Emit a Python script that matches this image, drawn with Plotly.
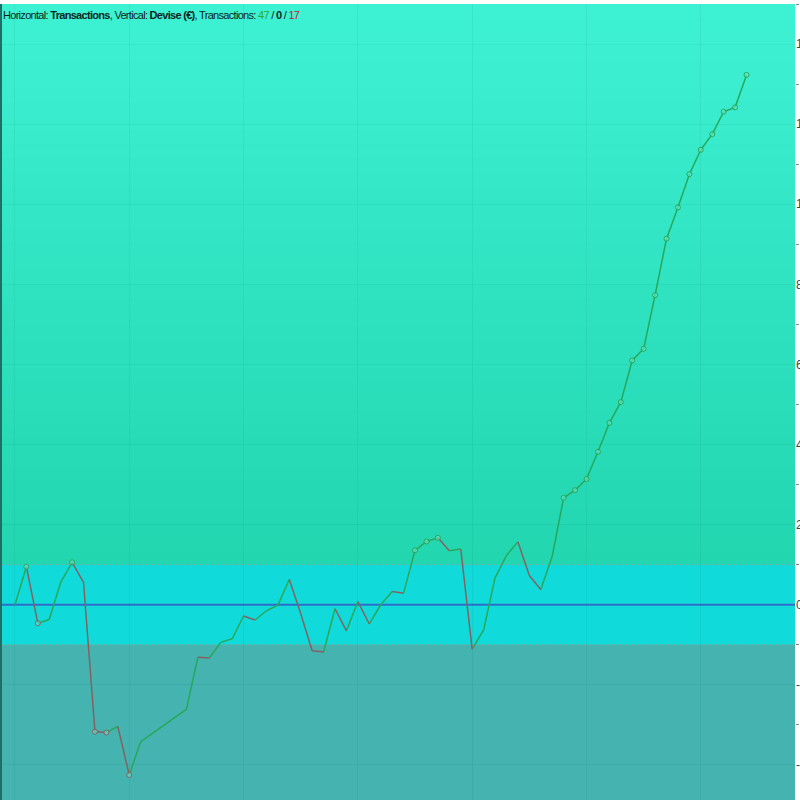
import plotly.graph_objects as go

# Data: running balance after each transaction
transactions = list(range(0, 65))
balance = [0.0, 0.95, -0.46, -0.37, 0.56, 1.06, 0.56, -3.17, -3.19, -3.04,
           -4.25, -3.42, -3.22, -3.02, -2.81, -2.61, -1.31, -1.33, -0.94, -0.85,
           -0.28, -0.38, -0.15, -0.01, 0.63, -0.22, -1.15, -1.18, -0.10, -0.65,
           0.08, -0.48, 0.0, 0.33, 0.29, 1.36, 1.58, 1.67, 1.35, 1.39,
           -1.11, -0.63, 0.67, 1.23, 1.57, 0.73, 0.38, 1.21, 2.67, 2.86,
           3.14, 3.82, 4.54, 5.06, 6.10, 6.39, 7.73, 9.14, 9.92, 10.75,
           11.36, 11.75, 12.31, 12.42, 13.23]
marked = [1, 2, 5, 7, 8, 10, 35, 36, 37, 48, 49, 50, 51, 52, 53, 54, 55, 56,
          57, 58, 59, 60, 61, 62, 63, 64]
band = [-1.0, 1.0]
y_ticks = [-4, -2, 0, 2, 4, 6, 8, 10, 12, 14]

n_up = sum(1 for a, b in zip(balance, balance[1:]) if b > a)
n_even = sum(1 for a, b in zip(balance, balance[1:]) if b == a)
n_down = sum(1 for a, b in zip(balance, balance[1:]) if b < a)

GREEN = "#27a85a"
RED = "#846262"

# split into rising / falling segments
up_x, up_y, dn_x, dn_y = [], [], [], []
for i in range(1, len(balance)):
    if balance[i] >= balance[i - 1]:
        up_x += [transactions[i - 1], transactions[i], None]
        up_y += [balance[i - 1], balance[i], None]
    else:
        dn_x += [transactions[i - 1], transactions[i], None]
        dn_y += [balance[i - 1], balance[i], None]

fig = go.Figure()
fig.add_trace(go.Scatter(x=up_x, y=up_y, mode="lines",
                         line=dict(color=GREEN, width=1.5), hoverinfo="skip"))
fig.add_trace(go.Scatter(x=dn_x, y=dn_y, mode="lines",
                         line=dict(color=RED, width=1.5), hoverinfo="skip"))
mk_col = [GREEN if balance[i] >= balance[i - 1] else RED for i in marked]
fig.add_trace(go.Scatter(x=[transactions[i] for i in marked],
                         y=[balance[i] for i in marked], mode="markers",
                         marker=dict(symbol="circle", size=5, color="rgba(120,240,220,0.5)",
                                     line=dict(color=mk_col, width=1))))

# background bands
y_lo, y_hi = -4.875, 15.0
shapes = []
steps = 40
c0 = (34, 214, 176)
c1 = (62, 242, 212)
for k in range(steps):
    a = band[1] + (y_hi - band[1]) * k / steps
    b = band[1] + (y_hi - band[1]) * (k + 1) / steps
    t = (k + 0.5) / steps
    col = tuple(int(c0[j] + (c1[j] - c0[j]) * t) for j in range(3))
    shapes.append(dict(type="rect", xref="paper", yref="y", x0=0, x1=1, y0=a, y1=b + 0.01,
                       fillcolor="rgb(%d,%d,%d)" % col, line=dict(width=0), layer="below"))
shapes.append(dict(type="rect", xref="paper", yref="y", x0=0, x1=1, y0=band[0], y1=band[1],
                   fillcolor="#10dbda", line=dict(width=0), layer="below"))
shapes.append(dict(type="rect", xref="paper", yref="y", x0=0, x1=1, y0=y_lo, y1=band[0],
                   fillcolor="#45b3b0", line=dict(width=0), layer="below"))
for v in band:
    shapes.append(dict(type="line", xref="paper", yref="y", x0=0, x1=1, y0=v, y1=v,
                       line=dict(color="#9a9a9a", width=1, dash="dot"), layer="below"))
shapes.append(dict(type="line", xref="paper", yref="y", x0=0, x1=1, y0=0, y1=0,
                   line=dict(color="#2f6fd0", width=2), layer="between"))
shapes.append(dict(type="line", xref="paper", yref="paper", x0=0, x1=0, y0=0, y1=1,
                   line=dict(color="#1d6f66", width=2)))

title = ("<span style='letter-spacing:-0.7px'>Horizontal: <b>Transactions</b>, "
         "Vertical: <b>Devise (€)</b>, Transactions: "
         "<span style='color:#2ea82e'>%d</span> / <b>%d</b> / "
         "<span style='color:#c41e1e'>%d</span></span>" % (n_up, n_even, n_down))

fig.update_layout(
    width=800, height=800,
    margin=dict(l=1, r=5, t=4, b=0, autoexpand=False),
    paper_bgcolor="white", plot_bgcolor="#2ad9b8",
    showlegend=False,
    shapes=shapes,
    annotations=[dict(text=title, xref="paper", yref="paper", x=0, y=1,
                      xanchor="left", yanchor="top", showarrow=False,
                      xshift=0, yshift=-3,
                      font=dict(family="Liberation Sans, Arial", size=11,
                                color="#0d2522"))],
    xaxis=dict(range=[-1.22, 68.24], tickmode="linear", tick0=0, dtick=10,
               showticklabels=False, showgrid=True, gridcolor="rgba(0,60,50,0.06)",
               zeroline=False, fixedrange=True, automargin=False),
    yaxis=dict(range=[y_lo, y_hi], side="right", tickmode="array", tickvals=y_ticks,
               ticktext=[str(v) for v in y_ticks], ticks="", showgrid=True,
               gridcolor="rgba(0,60,50,0.06)", zeroline=False, automargin=False,
               tickfont=dict(family="Liberation Sans, Arial", size=12, color="#444"),
               minor=dict(tickvals=[v + 1 for v in y_ticks], ticks="outside",
                          ticklen=3, tickcolor="#888", showgrid=False)),
)

# the page body has a default 8px margin; drop it so the chart sits at the corner
fig.write_html("out.html", config={"displayModeBar": False},
               post_script="document.body.style.margin='0';")
